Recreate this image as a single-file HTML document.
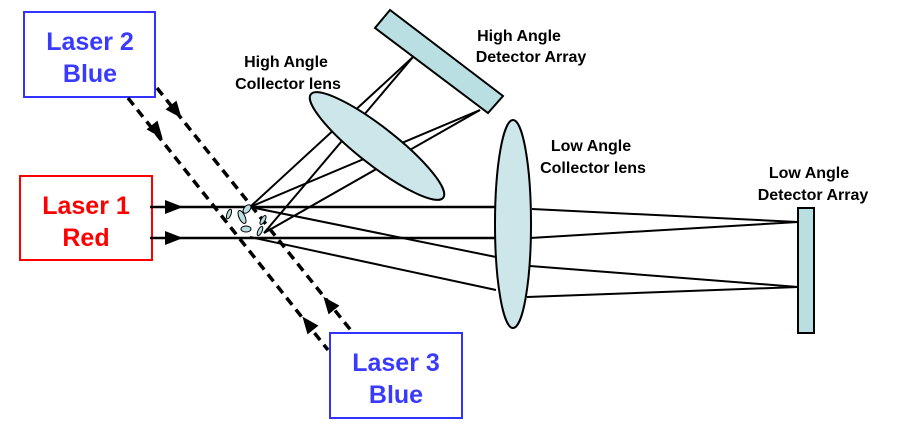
<!DOCTYPE html>
<html><head><meta charset="utf-8"><style>
html,body{margin:0;padding:0;background:#fff;}
svg{display:block;font-family:"Liberation Sans",sans-serif;font-weight:bold;}
</style></head><body>
<svg width="906" height="432" viewBox="0 0 906 432" xmlns="http://www.w3.org/2000/svg">
<!-- boxes -->
<rect x="24" y="12" width="131" height="85" fill="#fff" stroke="#3333ff" stroke-width="2"/>
<text x="90" y="50" font-size="25" fill="#3a3aff" text-anchor="middle">Laser 2</text>
<text x="90" y="82" font-size="25" fill="#3a3aff" text-anchor="middle">Blue</text>
<rect x="20" y="176" width="132" height="84" fill="#fff" stroke="#ff0000" stroke-width="2"/>
<text x="86" y="214" font-size="25" fill="#ff0000" text-anchor="middle">Laser 1</text>
<text x="86" y="246" font-size="25" fill="#ff0000" text-anchor="middle">Red</text>
<rect x="330" y="333" width="132" height="85" fill="#fff" stroke="#3333ff" stroke-width="2"/>
<text x="396" y="371" font-size="25" fill="#3a3aff" text-anchor="middle">Laser 3</text>
<text x="396" y="403" font-size="25" fill="#3a3aff" text-anchor="middle">Blue</text>
<!-- dashed lasers -->
<g stroke="#000" stroke-width="3.5" stroke-dasharray="9,6" fill="none">
<line x1="128" y1="98" x2="328" y2="350"/>
<line x1="157" y1="88" x2="353" y2="333"/>
</g>
<g fill="#000">
<polygon points="0,-7 17,0 0,7" transform="translate(152,125) rotate(51.6)"/>
<polygon points="0,-7 17,0 0,7" transform="translate(171,105) rotate(51.3)"/>
<polygon points="0,-7 17,0 0,7" transform="translate(313,330) rotate(231.6)"/>
<polygon points="0,-7 17,0 0,7" transform="translate(334,310) rotate(231.3)"/>
</g>
<!-- beams -->
<g stroke="#000" stroke-width="2.5">
<line x1="150" y1="207" x2="496" y2="207"/>
<line x1="150" y1="238" x2="496" y2="238"/>
</g>
<polygon points="165,200 183,207 165,214" fill="#000"/>
<polygon points="165,231 183,238 165,245" fill="#000"/>
<!-- rays -->
<g stroke="#000" stroke-width="2" fill="none">
<line x1="250" y1="207" x2="413" y2="57"/>
<line x1="264" y1="233" x2="413" y2="57"/>
<line x1="250" y1="207" x2="480" y2="110"/>
<line x1="264" y1="233" x2="480" y2="110"/>
<line x1="250" y1="207" x2="496" y2="257"/>
<line x1="250" y1="237" x2="496" y2="290"/>
<line x1="532" y1="209" x2="798" y2="222"/>
<line x1="530" y1="238" x2="798" y2="222"/>
<line x1="530" y1="266" x2="798" y2="287"/>
<line x1="527" y1="297" x2="798" y2="287"/>
</g>
<ellipse cx="377" cy="146" rx="84" ry="19" transform="rotate(38 377 146)" fill="#cce6ea" stroke="#000" stroke-width="2"/>
<polygon points="390,10 375,28 488,113 503,96" fill="#b9dfe2" stroke="#000" stroke-width="2"/>
<ellipse cx="513" cy="224" rx="18" ry="104" fill="#cce6ea" stroke="#000" stroke-width="2"/>
<rect x="798" y="208" width="16" height="125" fill="#b9dfe2" stroke="#000" stroke-width="2"/>
<g fill="#b9dfe2" stroke="#000" stroke-width="1">
<ellipse cx="247" cy="209" rx="3" ry="5" transform="rotate(40 247 209)"/>
<ellipse cx="229" cy="214" rx="2" ry="5" transform="rotate(20 229 214)"/>
<ellipse cx="242" cy="217" rx="3" ry="7" transform="rotate(-25 242 217)"/>
<ellipse cx="246" cy="229" rx="5" ry="3"/>
<ellipse cx="263" cy="220" rx="2" ry="5" transform="rotate(30 263 220)"/>
<ellipse cx="260" cy="231" rx="2" ry="5" transform="rotate(25 260 231)"/>
</g>
<g font-size="16" fill="#000" text-anchor="middle">
<text x="286" y="67">High Angle</text>
<text x="288" y="89">Collector lens</text>
<text x="519" y="41">High Angle</text>
<text x="531" y="62">Detector Array</text>
<text x="591" y="151">Low Angle</text>
<text x="593" y="173">Collector lens</text>
<text x="809" y="178">Low Angle</text>
<text x="813" y="200">Detector Array</text>
</g>
</svg>
</body></html>
